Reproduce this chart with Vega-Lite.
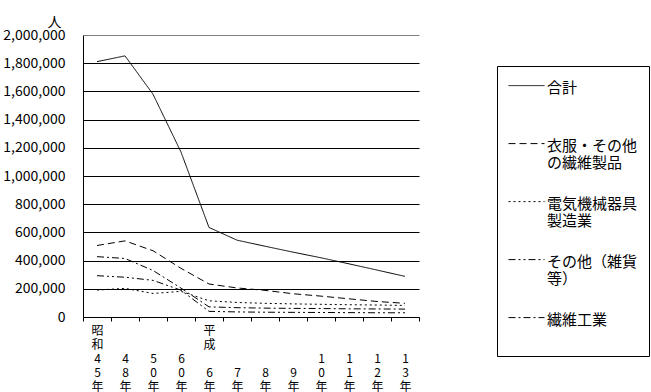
{
  "$schema": "https://vega.github.io/schema/vega-lite/v6.json",
  "width": 336,
  "height": 282,
  "autosize": {"type": "none"},
  "padding": {"left": 83, "top": 35, "right": 232, "bottom": 75},
  "background": "white",
  "config": {"view": {"stroke": null}, "font": "Noto Sans CJK JP"},
  "data": {"values": [
    {"year": "昭和45年", "series": "合計", "value": 1811000},
    {"year": "昭和48年", "series": "合計", "value": 1852000},
    {"year": "昭和50年", "series": "合計", "value": 1580000},
    {"year": "昭和60年", "series": "合計", "value": 1170000},
    {"year": "平成6年", "series": "合計", "value": 635000},
    {"year": "平成7年", "series": "合計", "value": 545000},
    {"year": "平成8年", "series": "合計", "value": 502000},
    {"year": "平成9年", "series": "合計", "value": 460000},
    {"year": "平成10年", "series": "合計", "value": 420000},
    {"year": "平成11年", "series": "合計", "value": 377000},
    {"year": "平成12年", "series": "合計", "value": 333000},
    {"year": "平成13年", "series": "合計", "value": 288000},
    {"year": "昭和45年", "series": "衣服・その他の繊維製品", "value": 507000},
    {"year": "昭和48年", "series": "衣服・その他の繊維製品", "value": 540000},
    {"year": "昭和50年", "series": "衣服・その他の繊維製品", "value": 470000},
    {"year": "昭和60年", "series": "衣服・その他の繊維製品", "value": 345000},
    {"year": "平成6年", "series": "衣服・その他の繊維製品", "value": 234000},
    {"year": "平成7年", "series": "衣服・その他の繊維製品", "value": 206000},
    {"year": "平成8年", "series": "衣服・その他の繊維製品", "value": 189000},
    {"year": "平成9年", "series": "衣服・その他の繊維製品", "value": 165000},
    {"year": "平成10年", "series": "衣服・その他の繊維製品", "value": 148000},
    {"year": "平成11年", "series": "衣服・その他の繊維製品", "value": 129000},
    {"year": "平成12年", "series": "衣服・その他の繊維製品", "value": 110000},
    {"year": "平成13年", "series": "衣服・その他の繊維製品", "value": 97000},
    {"year": "昭和45年", "series": "電気機械器具製造業", "value": 191000},
    {"year": "昭和48年", "series": "電気機械器具製造業", "value": 203000},
    {"year": "昭和50年", "series": "電気機械器具製造業", "value": 167000},
    {"year": "昭和60年", "series": "電気機械器具製造業", "value": 182000},
    {"year": "平成6年", "series": "電気機械器具製造業", "value": 115000},
    {"year": "平成7年", "series": "電気機械器具製造業", "value": 103000},
    {"year": "平成8年", "series": "電気機械器具製造業", "value": 97000},
    {"year": "平成9年", "series": "電気機械器具製造業", "value": 93000},
    {"year": "平成10年", "series": "電気機械器具製造業", "value": 90000},
    {"year": "平成11年", "series": "電気機械器具製造業", "value": 87000},
    {"year": "平成12年", "series": "電気機械器具製造業", "value": 85000},
    {"year": "平成13年", "series": "電気機械器具製造業", "value": 82000},
    {"year": "昭和45年", "series": "その他（雑貨等）", "value": 293000},
    {"year": "昭和48年", "series": "その他（雑貨等）", "value": 282000},
    {"year": "昭和50年", "series": "その他（雑貨等）", "value": 260000},
    {"year": "昭和60年", "series": "その他（雑貨等）", "value": 190000},
    {"year": "平成6年", "series": "その他（雑貨等）", "value": 40000},
    {"year": "平成7年", "series": "その他（雑貨等）", "value": 36000},
    {"year": "平成8年", "series": "その他（雑貨等）", "value": 34000},
    {"year": "平成9年", "series": "その他（雑貨等）", "value": 33000},
    {"year": "平成10年", "series": "その他（雑貨等）", "value": 32000},
    {"year": "平成11年", "series": "その他（雑貨等）", "value": 31000},
    {"year": "平成12年", "series": "その他（雑貨等）", "value": 30000},
    {"year": "平成13年", "series": "その他（雑貨等）", "value": 30000},
    {"year": "昭和45年", "series": "繊維工業", "value": 428000},
    {"year": "昭和48年", "series": "繊維工業", "value": 415000},
    {"year": "昭和50年", "series": "繊維工業", "value": 330000},
    {"year": "昭和60年", "series": "繊維工業", "value": 205000},
    {"year": "平成6年", "series": "繊維工業", "value": 72000},
    {"year": "平成7年", "series": "繊維工業", "value": 66000},
    {"year": "平成8年", "series": "繊維工業", "value": 63000},
    {"year": "平成9年", "series": "繊維工業", "value": 61000},
    {"year": "平成10年", "series": "繊維工業", "value": 60000},
    {"year": "平成11年", "series": "繊維工業", "value": 58000},
    {"year": "平成12年", "series": "繊維工業", "value": 57000},
    {"year": "平成13年", "series": "繊維工業", "value": 56000}
  ]},
  "mark": {"type": "line", "color": "black", "strokeWidth": 1},
  "encoding": {
    "x": {
      "field": "year", "type": "nominal",
      "sort": ["昭和45年","昭和48年","昭和50年","昭和60年","平成6年","平成7年","平成8年","平成9年","平成10年","平成11年","平成12年","平成13年"],
      "bandPosition": 0.5,
      "scale": {"type": "band", "paddingInner": 0, "paddingOuter": 0},
      "axis": {
        "title": null,
        "labelExpr": "{'昭和45年':['昭','和','4','5','年'],'昭和48年':['\u200b','\u200b','4','8','年'],'昭和50年':['\u200b','\u200b','5','0','年'],'昭和60年':['\u200b','\u200b','6','0','年'],'平成6年':['平','成','\u200b','6','年'],'平成7年':['\u200b','\u200b','\u200b','7','年'],'平成8年':['\u200b','\u200b','\u200b','8','年'],'平成9年':['\u200b','\u200b','\u200b','9','年'],'平成10年':['\u200b','\u200b','1','0','年'],'平成11年':['\u200b','\u200b','1','1','年'],'平成12年':['\u200b','\u200b','1','2','年'],'平成13年':['\u200b','\u200b','1','3','年']}[datum.value]",
        "labelAngle": 0,
        "labelBaseline": "top",
        "labelLineHeight": 14,
        "labelFontSize": 12,
        "labelPadding": 4,
        "labelColor": "black",
        "labelOverlap": false,
        "labelBound": false,
        "tickBand": "extent",
        "tickSize": 4,
        "tickColor": "black",
        "domainColor": "black",
        "grid": false
      }
    },
    "y": {
      "field": "value", "type": "quantitative",
      "scale": {"domain": [0, 2000000], "nice": false},
      "axis": {
        "title": "人",
        "titleAngle": 0,
        "titleX": -29,
        "titleY": -13,
        "titleAlign": "center",
        "titleBaseline": "middle",
        "titleFontSize": 14,
        "titleFontWeight": "normal",
        "titleColor": "black",
        "values": [0,200000,400000,600000,800000,1000000,1200000,1400000,1600000,1800000,2000000],
        "format": ",.0f",
        "labelFontSize": 14,
        "labelPadding": 18,
        "labelOffset": 0,
        "labelColor": "black",
        "ticks": false,
        "domainColor": "black",
        "grid": true,
        "gridColor": {"condition": {"test": "datum.value == 2000000", "value": "#808080"}, "value": "black"},
        "gridOpacity": 1
      }
    },
    "strokeDash": {
      "field": "series", "type": "nominal",
      "scale": {
        "domain": ["合計","衣服・その他の繊維製品","電気機械器具製造業","その他（雑貨等）","繊維工業"],
        "range": [[1,0],[7,4],[2,3],[7,3,2,3,2,3],[7,3,2,3]]
      },
      "legend": {
        "orient": "none",
        "legendX": 414,
        "legendY": 31,
        "direction": "vertical",
        "title": null,
        "symbolType": "M-1,-0.55H1",
        "symbolSize": 1296,
        "symbolStrokeWidth": 1,
        "symbolStrokeColor": "black",
        "labelFontSize": 15,
        "labelLineHeight": 20,
        "labelBaseline": "bottom",
        "labelColor": "black",
        "labelLimit": 200,
        "labelOffset": 2,
        "labelExpr": "{'合計':['合計','\u200b'],'衣服・その他の繊維製品':['衣服・その他','の繊維製品'],'電気機械器具製造業':['電気機械器具','製造業'],'その他（雑貨等）':['その他（雑貨','等）'],'繊維工業':['繊維工業','\u200b']}[datum.label]",
        "rowPadding": 22,
        "padding": 11,
        "strokeColor": "black"
      }
    }
  }
}
